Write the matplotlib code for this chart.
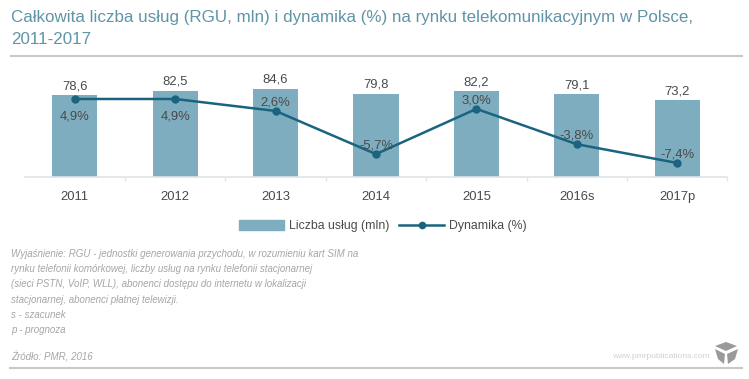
#!/usr/bin/env python3

import matplotlib
matplotlib.use('Agg')
import matplotlib.pyplot as plt
from matplotlib.lines import Line2D
from matplotlib.patches import Patch, Polygon

W, H = 749, 379

years = ['2011', '2012', '2013', '2014', '2015', '2016s', '2017p']
services = [78.6, 82.5, 84.6, 79.8, 82.2, 79.1, 73.2]
dynamics = [4.9, 4.9, 2.6, -5.7, 3.0, -3.8, -7.4]
services_labels = ['78,6', '82,5', '84,6', '79,8', '82,2', '79,1', '73,2']
dynamics_labels = ['4,9%', '4,9%', '2,6%', '-5,7%', '3,0%', '-3,8%', '-7,4%']
# label below the point for the first two, above for the rest
dynamics_offset = [-24, -24, 2, 3, 2, 3, 2]

title = 'Całkowita liczba usług (RGU, mln) i dynamika (%) na rynku telekomunikacyjnym w Polsce,\n2011-2017'
note = ('Wyjaśnienie: RGU - jednostki generowania przychodu, w rozumieniu kart SIM na\n'
        'rynku telefonii komórkowej, liczby usług na rynku telefonii stacjonarnej\n'
        '(sieci PSTN, VoIP, WLL), abonenci dostępu do internetu w lokalizacji\n'
        'stacjonarnej, abonenci płatnej telewizji.\n'
        's - szacunek\n'
        'p - prognoza')
source = 'Źródło: PMR, 2016'
site = 'www.pmrpublications.com'

BAR = '#7dadbf'
LINE = '#1a6480'
TITLE = '#5f95a6'
TEXT = '#4a4a4a'
NOTE = '#a6a6a6'
RULE = '#c9c9c9'
AXIS = '#dfe4e8'

plt.rcParams['font.family'] = ['Liberation Sans', 'DejaVu Sans']


def fx(px):
    return px / W


def fy(py):
    return 1 - py / H


def plot():
    fig = plt.figure(figsize=(W / 100, H / 100), dpi=100)
    ax = fig.add_axes([fx(24.5), fy(177), fx(703), 97 / H])
    x = list(range(len(years)))

    ax.bar(x, services, width=0.45, color=BAR)
    ax.set_xlim(-0.5, 6.5)
    ax.set_ylim(0, 92.8)
    ax.set_yticks([])
    ax.set_xticks(x)
    ax.set_xticklabels(years, fontsize=9.4, color=TEXT)
    ax.tick_params(axis='x', length=0, pad=10)
    # small ticks sit between the categories
    ax.set_xticks([i - 0.5 for i in range(1, len(years) + 1)], minor=True)
    ax.tick_params(axis='x', which='minor', length=3, color=AXIS, width=1)
    for s in ['top', 'left', 'right']:
        ax.spines[s].set_visible(False)
    ax.spines['bottom'].set_color(AXIS)
    ax.spines['bottom'].set_linewidth(1.2)
    ax.patch.set_alpha(0)

    for i, v in enumerate(services):
        ax.annotate(services_labels[i], (i, v), xytext=(0, 2), textcoords='offset points',
                    ha='center', va='bottom', fontsize=9.4, color=TEXT)

    ax2 = ax.twinx()
    ax2.set_ylim(-10.1, 8.55)
    ax2.axis('off')
    ax2.plot(x, dynamics, color=LINE, lw=1.8, marker='o', ms=5)
    for i, v in enumerate(dynamics):
        ax2.annotate(dynamics_labels[i], (i, v), xytext=(0, dynamics_offset[i] * 0.72),
                     textcoords='offset points', ha='center', va='bottom',
                     fontsize=9.4, color=TEXT)

    handles = [Patch(color=BAR, label='Liczba usług (mln)'),
               Line2D([], [], color=LINE, lw=1.8, marker='o', ms=4.5, label='Dynamika (%)')]
    fig.legend(handles=handles, loc='center', bbox_to_anchor=(fx(383), fy(226)), ncol=2,
               frameon=False, fontsize=8.8, labelcolor=TEXT, handlelength=3.7, handleheight=0.9,
               handletextpad=0.4, columnspacing=0.8, borderpad=0, borderaxespad=0)

    fig.text(fx(11), fy(28.5), title, fontsize=12.25, color=TITLE, va='center', linespacing=1.63)
    fig.text(fx(11), fy(292), note, fontsize=7, style='italic', color=NOTE, va='center', linespacing=1.63)
    fig.text(fx(11), fy(357), source, fontsize=7, style='italic', color=NOTE, va='center')
    fig.text(fx(710), fy(357), site, fontsize=6, color='#d0d0d0', va='center', ha='right')

    fig.add_artist(Line2D([fx(11), fx(742)], [fy(56), fy(56)], color=RULE, lw=1.5))
    fig.add_artist(Line2D([fx(10), fx(742)], [fy(367.5), fy(367.5)], color=RULE, lw=1.5))

    # logo cube
    faces = [[(726, 342), (737, 346), (726, 351), (715, 346)],
             [(727, 354), (738, 349), (735, 359), (728, 364)],
             [(725, 354), (715, 349), (718, 359), (724, 364)]]
    for f in faces:
        pts = [(fx(a), fy(b)) for a, b in f]
        fig.add_artist(Polygon(pts, closed=True, transform=fig.transFigure, color='#9a9a9a', lw=0))
    return fig


if __name__ == '__main__':
    fig = plot()
    fig.savefig('out.png', dpi=100)
